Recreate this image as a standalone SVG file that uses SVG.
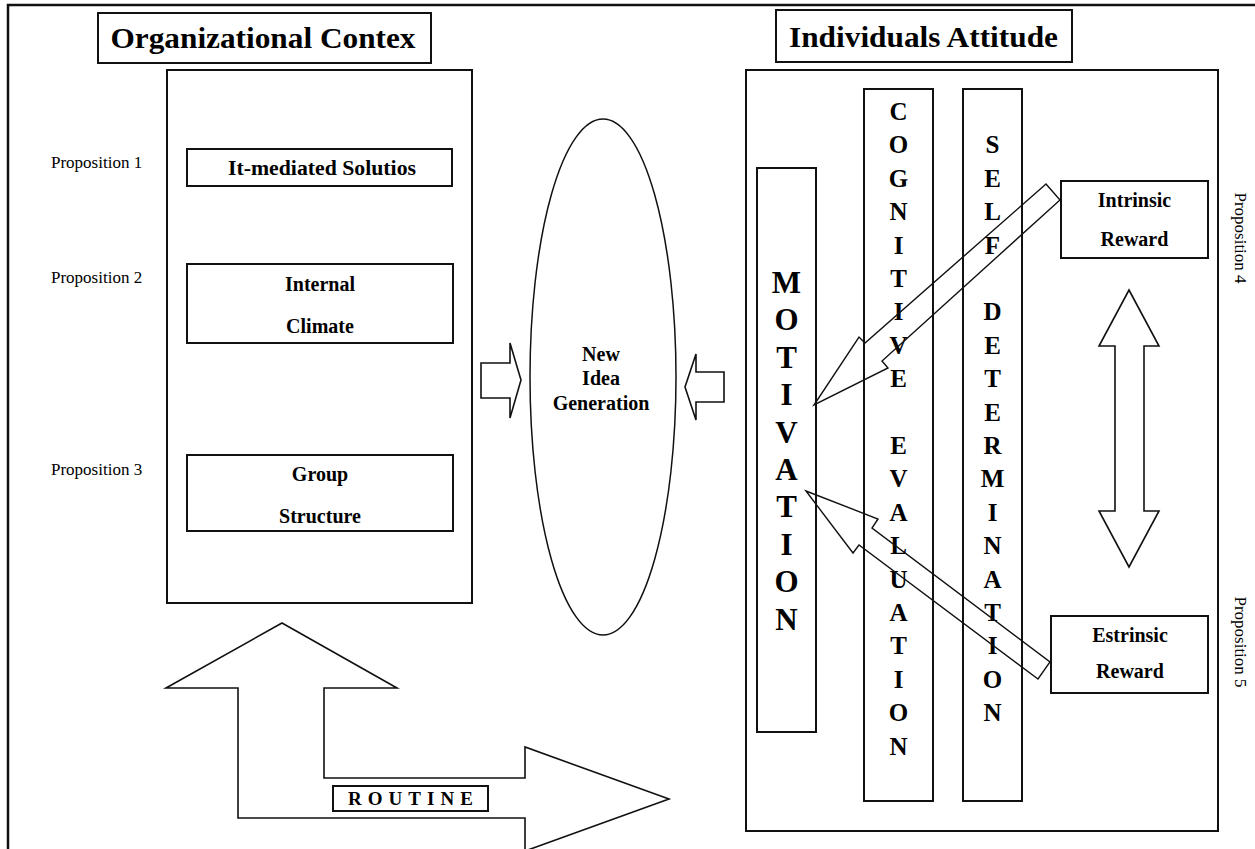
<svg xmlns="http://www.w3.org/2000/svg" width="1255" height="849" viewBox="0 0 1255 849">
<style>
.box{fill:#fff;stroke:#111;stroke-width:2}
.frame{fill:none;stroke:#111;stroke-width:2.5}
.arr{fill:none;stroke:#111;stroke-width:1.4;stroke-linejoin:miter}
.arrw{fill:#fff;stroke:#111;stroke-width:1.6;stroke-linejoin:miter}
.t{font-family:"Liberation Serif","Times New Roman",serif;fill:#000}
.b{font-weight:bold}
.title{font-size:30px;font-weight:bold}
.lbl{font-size:20px;font-weight:bold}
.prop{font-size:17px}
.col{font-size:25px;font-weight:bold}
.mot{font-size:31px;font-weight:bold}
</style>
<rect width="1255" height="849" fill="#fff"/>
<path class="frame" d="M8,849 L8,5 L1255,5"/>

<g id="org-title">
<rect class="box" x="98" y="13" width="333" height="50"/>
<text class="t title" x="263" y="48" text-anchor="middle" textLength="305" lengthAdjust="spacingAndGlyphs">Organizational Contex</text>
</g>
<g id="org-context">
<rect class="box" x="167" y="70" width="305" height="533"/>
</g>
<g id="it-mediated">
<rect class="box" x="187" y="149" width="265" height="37"/>
<text class="t lbl" x="322" y="175" text-anchor="middle" textLength="188" lengthAdjust="spacingAndGlyphs">It-mediated Solutios</text>
</g>
<g id="internal-climate">
<rect class="box" x="187" y="264" width="266" height="79"/>
<text class="t lbl" x="320" y="291" text-anchor="middle" font-size="18">Internal</text>
<text class="t lbl" x="320" y="333" text-anchor="middle" font-size="18">Climate</text>
</g>
<g id="group-structure">
<rect class="box" x="187" y="455" width="266" height="76"/>
<text class="t lbl" x="320" y="481" text-anchor="middle" font-size="18">Group</text>
<text class="t lbl" x="320" y="523" text-anchor="middle" font-size="18">Structure</text>
</g>
<g id="propositions-left">
<text class="t prop" x="51" y="168">Proposition 1</text>
<text class="t prop" x="51" y="283">Proposition 2</text>
<text class="t prop" x="51" y="475">Proposition 3</text>
</g>

<g id="new-idea">
<ellipse cx="603" cy="377" rx="73" ry="258" fill="#fff" stroke="#111" stroke-width="1.5"/>
<text class="t lbl" x="601" y="361" text-anchor="middle">New</text>
<text class="t lbl" x="601" y="385" text-anchor="middle">Idea</text>
<text class="t lbl" x="601" y="410" text-anchor="middle">Generation</text>
</g>

<g id="ind-title">
<rect class="box" x="776" y="10" width="296" height="52"/>
<text class="t title" x="923.5" y="47" text-anchor="middle" textLength="269" lengthAdjust="spacingAndGlyphs">Individuals Attitude</text>
</g>
<g id="ind-attitude">
<rect class="box" x="746" y="70" width="472" height="761"/>
</g>
<g id="motivation">
<rect class="box" x="757" y="168" width="59" height="564"/>
<g class="t mot" text-anchor="middle">
<text x="786.5" y="293">M</text><text x="786.5" y="330.4">O</text><text x="786.5" y="367.8">T</text><text x="786.5" y="405.2">I</text><text x="786.5" y="442.6">V</text><text x="786.5" y="480">A</text><text x="786.5" y="517.4">T</text><text x="786.5" y="554.8">I</text><text x="786.5" y="592.2">O</text><text x="786.5" y="629.6">N</text>
</g>
</g>
<g id="cognitive-evaluation">
<rect class="box" x="864" y="89" width="69" height="712"/>
<g class="t col" text-anchor="middle">
<text x="898.5" y="120">C</text><text x="898.5" y="153.4">O</text><text x="898.5" y="186.8">G</text><text x="898.5" y="220.2">N</text><text x="898.5" y="253.6">I</text><text x="898.5" y="287">T</text><text x="898.5" y="320.4">I</text><text x="898.5" y="353.8">V</text><text x="898.5" y="387.2">E</text>
<text x="898.5" y="454">E</text><text x="898.5" y="487.4">V</text><text x="898.5" y="520.8">A</text><text x="898.5" y="554.2">L</text><text x="898.5" y="587.6">U</text><text x="898.5" y="621">A</text><text x="898.5" y="654.4">T</text><text x="898.5" y="687.8">I</text><text x="898.5" y="721.2">O</text><text x="898.5" y="754.6">N</text>
</g>
</g>
<g id="self-determination">
<rect class="box" x="963" y="89" width="59" height="712"/>
<g class="t col" text-anchor="middle">
<text x="992.5" y="153.4">S</text><text x="992.5" y="186.8">E</text><text x="992.5" y="220.2">L</text><text x="992.5" y="253.6">F</text>
<text x="992.5" y="320.4">D</text><text x="992.5" y="353.8">E</text><text x="992.5" y="387.2">T</text><text x="992.5" y="420.6">E</text><text x="992.5" y="454">R</text><text x="992.5" y="487.4">M</text><text x="992.5" y="520.8">I</text><text x="992.5" y="554.2">N</text><text x="992.5" y="587.6">A</text><text x="992.5" y="621">T</text><text x="992.5" y="654.4">I</text><text x="992.5" y="687.8">O</text><text x="992.5" y="721.2">N</text>
</g>
</g>
<g id="intrinsic-reward">
<rect class="box" x="1061" y="181" width="147" height="77"/>
<text class="t lbl" x="1134.5" y="207" text-anchor="middle">Intrinsic</text>
<text class="t lbl" x="1134.5" y="246" text-anchor="middle">Reward</text>
</g>
<g id="estrinsic-reward">
<rect class="box" x="1051" y="616" width="157" height="77"/>
<text class="t lbl" x="1130" y="642" text-anchor="middle">Estrinsic</text>
<text class="t lbl" x="1130" y="678" text-anchor="middle">Reward</text>
</g>
<g id="propositions-right">
<text class="t prop" text-anchor="middle" transform="translate(1235,238) rotate(90)">Proposition 4</text>
<text class="t prop" text-anchor="middle" transform="translate(1235,642) rotate(90)">Proposition 5</text>
</g>

<g id="connectors">
<polygon class="arrw" points="481,363 510,363 510,343 521,380 510,418 510,398 481,398"/>
<polygon class="arrw" points="724,372 696,372 696,354 685,387 696,420 696,402 724,402"/>
<polygon class="arr" points="1046,184 865,343 859,337 814,405 888,368 882,361 1060,200"/>
<polygon class="arr" points="806,491 878,519 872,528 1050,662 1038,679 859,545 853,553"/>
<polygon class="arrw" points="1129,290 1159,346 1144,346 1144,511 1159,511 1129,567 1099,511 1115,511 1115,346 1099,346"/>
<g id="routine">
<polygon class="arrw" points="282,623 397,688 324,688 324,778 525,778 525,747 669,799 525,851 525,818 238,818 238,688 166,688"/>
<rect class="box" x="333" y="786" width="155" height="25"/>
<text class="t b" x="348" y="805" font-size="19" textLength="125" lengthAdjust="spacing">ROUTINE</text>
</g>
</g>
</svg>
